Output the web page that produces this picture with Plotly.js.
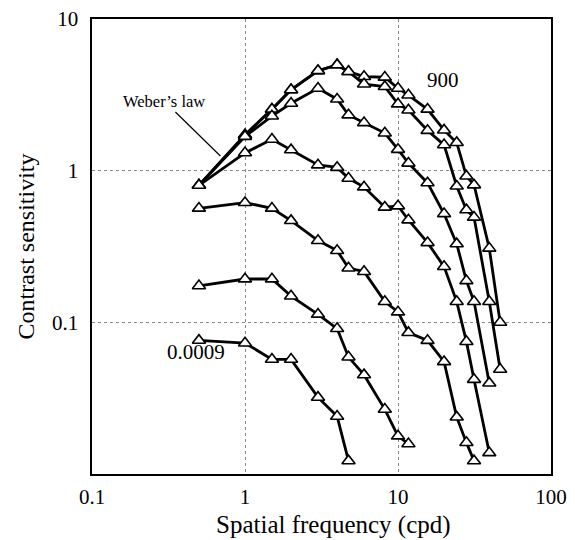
<!DOCTYPE html>
<html>
<head>
<meta charset="utf-8">
<script src="https://cdn.plot.ly/plotly-3.0.1.min.js"></script>
<style>html,body{margin:0;padding:0;background:#fff;}#chart{width:575px;height:540px;}</style>
</head>
<body>
<div id="chart"></div>
<script>
// Spatial frequency (cpd) sample points
var freq = [0.5, 1, 1.5, 2, 3, 4, 4.75, 6, 8.2, 10, 11.7, 15.6, 20, 24.2, 28, 31.4, 39.5, 46.5];

// Contrast sensitivity per retinal illuminance level
var cs900    = [0.8, 1.72, 2.54, 3.41, 4.56, 4.98, 4.5, 4.17, 4.13, 3.49, 3.15, 2.54, 1.85, 1.53, 0.92, 0.805, 0.308, 0.1];
var cs90     = [0.8, 1.72, 2.54, 3.41, 4.56, 4.98, 4.5, 3.72, 3.58, 2.75, 2.51, 1.84, 1.48, 0.79, 0.551, 0.493, 0.137, 0.049];
var cs9      = [0.8, 1.68, 2.29, 2.78, 3.49, 2.96, 2.33, 2.07, 1.77, 1.38, 1.12, 0.83, 0.52, 0.329, 0.188, 0.137, 0.0397];
var cs0_9    = [0.8, 1.31, 1.61, 1.37, 1.09, 1.05, 0.89, 0.78, 0.574, 0.585, 0.473, 0.335, 0.233, 0.137, 0.0746, 0.042, 0.0138];
var cs0_09   = [0.565, 0.615, 0.565, 0.468, 0.346, 0.297, 0.228, 0.216, 0.137, 0.117, 0.0855, 0.0759, 0.055, 0.0237, 0.0161, 0.0122];
var cs0_009  = [0.174, 0.193, 0.193, 0.149, 0.113, 0.091, 0.059, 0.045, 0.0267, 0.0178, 0.0158];
var cs0_0009 = [0.076, 0.073, 0.057, 0.057, 0.032, 0.024, 0.0122];

var seriesNames = ['900', '90', '9', '0.9', '0.09', '0.009', '0.0009'];
var seriesValues = [cs900, cs90, cs9, cs0_9, cs0_09, cs0_009, cs0_0009];

var xTickVals = [0.1, 1, 10, 100];
var xTickText = ['0.1', '1', '10', '100'];
var yTickVals = [0.1, 1, 10];
var yTickText = ['0.1', '1', '10'];

var traces = seriesValues.map(function (vals, i) {
  return {
    x: freq.slice(0, vals.length),
    y: vals,
    name: seriesNames[i],
    type: 'scatter',
    mode: 'lines+markers',
    line: {color: '#000', width: 2.8},
    marker: {symbol: 'triangle-up', size: 11.5, color: '#fff', line: {color: '#000', width: 1.6}},
    cliponaxis: false
  };
});

var serif = 'Liberation Serif, Times New Roman, serif';

var layout = {
  width: 575, height: 540,
  margin: {l: 92, r: 24, t: 19, b: 66},
  paper_bgcolor: '#fff', plot_bgcolor: '#fff',
  showlegend: false,
  font: {family: serif, color: '#000', size: 18},
  xaxis: {
    type: 'log', range: [-1, 2],
    tickvals: xTickVals, ticktext: xTickText,
    ticks: '', ticklabelstandoff: 3,
    showgrid: true, gridcolor: '#888', griddash: 'dot', gridwidth: 1,
    showline: true, linecolor: '#000', linewidth: 1.6, mirror: true,
    zeroline: false,
    tickfont: {family: serif, size: 21, color: '#000'}
  },
  yaxis: {
    type: 'log', range: [-2, 1],
    tickvals: yTickVals, ticktext: yTickText,
    ticks: '', ticklabelstandoff: 8,
    showgrid: true, gridcolor: '#888', griddash: 'dot', gridwidth: 1,
    showline: true, linecolor: '#000', linewidth: 1.6, mirror: true,
    zeroline: false,
    tickfont: {family: serif, size: 21, color: '#000'},
    title: {text: 'Contrast sensitivity', font: {family: serif, size: 24, color: '#000'}, standoff: 10}
  },
  shapes: [{
    type: 'line', xref: 'paper', yref: 'paper',
    x0: 0.1817, y0: 0.7956, x1: 0.2797, y1: 0.699,
    line: {color: '#000', width: 1.2}
  }],
  annotations: [
    {xref: 'paper', yref: 'paper', x: 0.526, y: -0.111, yanchor: 'middle', xanchor: 'center',
     text: 'Spatial frequency (cpd)', showarrow: false,
     font: {family: serif, size: 25, color: '#000'}},
    {xref: 'x', yref: 'y', x: -0.527, y: 0.453, text: "Weber\u2019s law", showarrow: false,
     font: {family: serif, size: 16.5, color: '#000'}},
    {xref: 'x', yref: 'y', x: 1.294, y: 0.598, text: '900', showarrow: false,
     font: {family: serif, size: 21, color: '#000'}},
    {xref: 'x', yref: 'y', x: -0.318, y: -1.195, text: '0.0009', showarrow: false,
     font: {family: serif, size: 21, color: '#000'}}
  ]
};

Plotly.newPlot('chart', traces, layout, {displayModeBar: false, staticPlot: true});
</script>
</body>
</html>
